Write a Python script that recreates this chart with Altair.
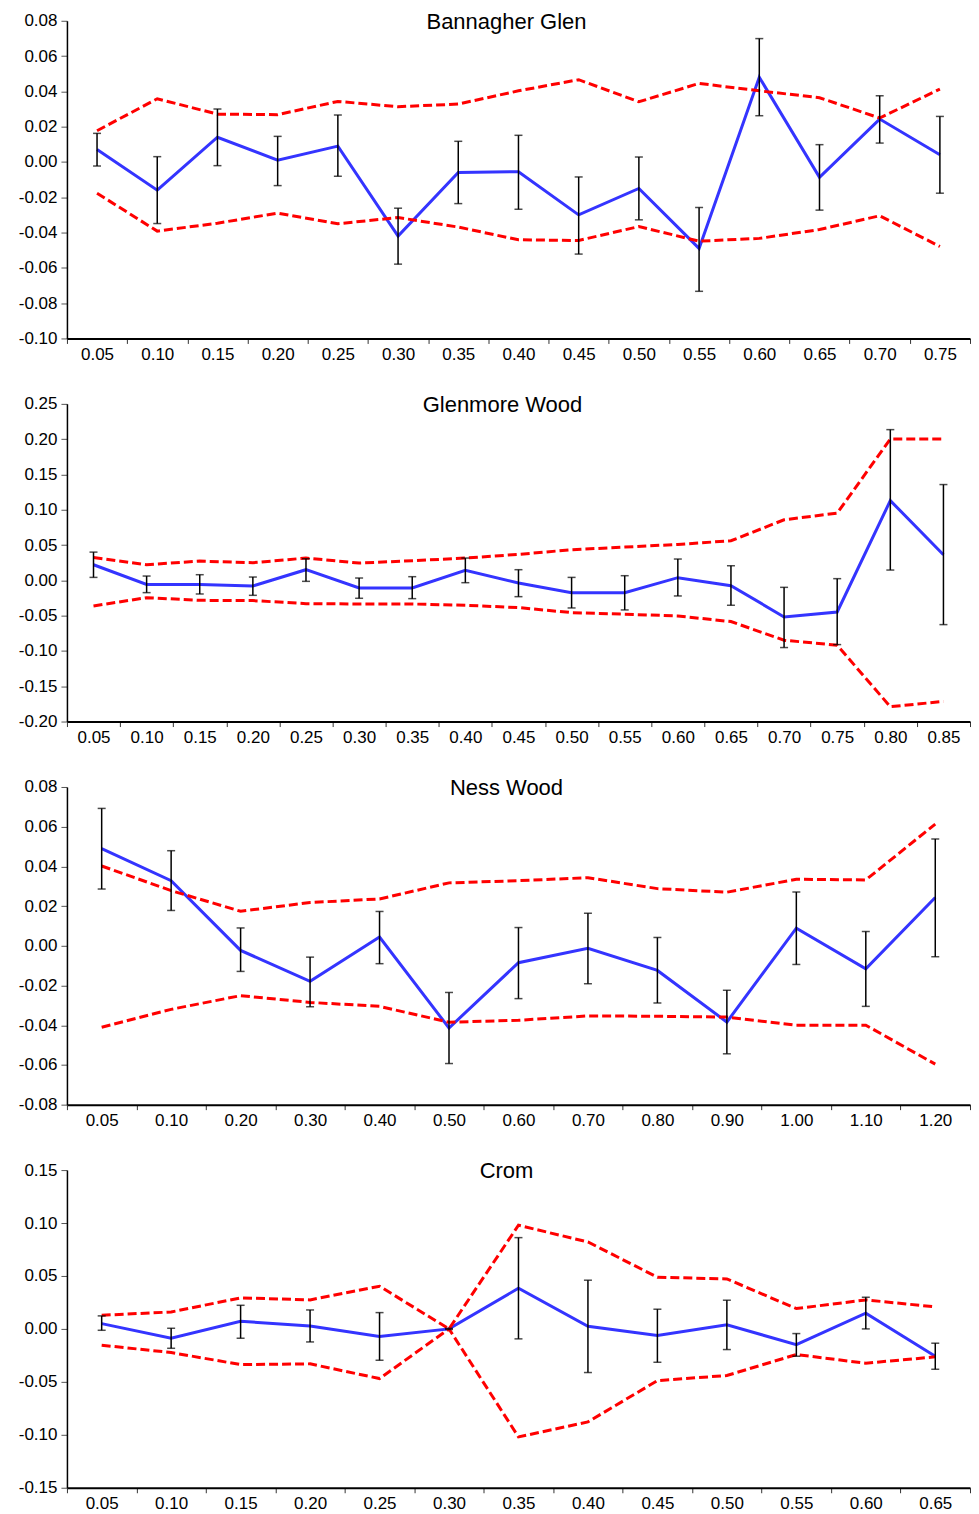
import altair as alt
import pandas as pd

FONT = "Liberation Sans"
BLUE = "#3434ff"
RED = "#ff0000"

# ---------------- Bannagher Glen ----------------
bg_x = ["0.05", "0.10", "0.15", "0.20", "0.25", "0.30", "0.35", "0.40",
        "0.45", "0.50", "0.55", "0.60", "0.65", "0.70", "0.75"]
bg_mean = [0.007, -0.016, 0.014, 0.001, 0.009, -0.042, -0.006, -0.0055,
           -0.030, -0.015, -0.049, 0.048, -0.0087, 0.0243, 0.0041]
bg_err_hi = [0.0162, 0.003, 0.030, 0.0145, 0.0266, -0.0262, 0.0117, 0.0151,
             -0.0085, 0.0028, -0.0258, 0.0699, 0.0098, 0.0375, 0.0258]
bg_err_lo = [-0.0023, -0.0349, -0.0021, -0.0134, -0.0081, -0.0579, -0.0236, -0.0268,
             -0.0522, -0.0328, -0.0733, 0.0262, -0.0273, 0.0107, -0.0177]
bg_env_hi = [0.0177, 0.0358, 0.0271, 0.0268, 0.0343, 0.0313, 0.0328, 0.0403,
             0.0466, 0.0341, 0.0445, 0.0403, 0.0364, 0.0249, 0.0413]
bg_env_lo = [-0.0177, -0.0392, -0.0347, -0.029, -0.035, -0.0315, -0.0369, -0.0441,
             -0.0445, -0.0366, -0.0449, -0.0433, -0.0383, -0.0305, -0.0479]
bg_yticks = [0.08, 0.06, 0.04, 0.02, 0.0, -0.02, -0.04, -0.06, -0.08, -0.10]

# ---------------- Glenmore Wood ----------------
gw_x = ["0.05", "0.10", "0.15", "0.20", "0.25", "0.30", "0.35", "0.40", "0.45",
        "0.50", "0.55", "0.60", "0.65", "0.70", "0.75", "0.80", "0.85"]
gw_mean = [0.0221, -0.0057, -0.0057, -0.008, 0.0151, -0.0108, -0.0108, 0.0141, -0.0038,
           -0.0174, -0.0174, 0.0038, -0.0075, -0.0518, -0.0448, 0.113, 0.0363]
gw_err_hi = [0.040, 0.0061, 0.008, 0.0047, 0.0306, 0.0033, 0.0052, 0.0316, 0.0151,
             0.0042, 0.0066, 0.0302, 0.0207, -0.0099, 0.0024, 0.2135, 0.1357]
gw_err_lo = [0.0042, -0.0174, -0.0193, -0.0212, -0.0014, -0.0254, -0.0259, -0.0033, -0.0231,
             -0.0391, -0.0419, -0.0221, -0.0353, -0.0952, -0.091, 0.0146, -0.0627]
gw_env_hi = [0.0325, 0.0221, 0.0273, 0.025, 0.0316, 0.0245, 0.0278, 0.0316, 0.0368,
             0.0434, 0.0471, 0.0509, 0.0561, 0.0858, 0.0952, 0.2003, 0.2003]
gw_env_lo = [-0.0363, -0.0245, -0.0283, -0.0287, -0.033, -0.0335, -0.0335, -0.0353, -0.0386,
             -0.0457, -0.048, -0.0504, -0.0584, -0.0848, -0.0919, -0.179, -0.1715]
gw_yticks = [0.25, 0.20, 0.15, 0.10, 0.05, 0.0, -0.05, -0.10, -0.15, -0.20]

# ---------------- Ness Wood ----------------
nw_x = ["0.05", "0.10", "0.20", "0.30", "0.40", "0.50", "0.60",
        "0.70", "0.80", "0.90", "1.00", "1.10", "1.20"]
nw_mean = [0.0489, 0.0328, -0.0023, -0.0179, 0.0044, -0.0414, -0.0085,
           -0.0013, -0.0124, -0.0384, 0.0089, -0.0116, 0.0243]
nw_err_hi = [0.0692, 0.0479, 0.009, -0.0057, 0.0173, -0.0235, 0.0092,
             0.0164, 0.0042, -0.0224, 0.0271, 0.0072, 0.0538]
nw_err_lo = [0.0286, 0.0178, -0.0129, -0.0307, -0.009, -0.0593, -0.0266,
             -0.0191, -0.0288, -0.0544, -0.0094, -0.0305, -0.0055]
nw_env_hi = [0.0402, 0.0278, 0.0174, 0.0218, 0.0236, 0.0317, 0.0328,
             0.0343, 0.0288, 0.027, 0.0335, 0.0332, 0.0613]
nw_env_lo = [-0.041, -0.032, -0.0251, -0.0285, -0.0305, -0.0385, -0.0375,
             -0.0353, -0.0355, -0.0359, -0.040, -0.040, -0.0596]
nw_yticks = [0.08, 0.06, 0.04, 0.02, 0.0, -0.02, -0.04, -0.06, -0.08]

# ---------------- Crom ----------------
cr_x = ["0.05", "0.10", "0.15", "0.20", "0.25", "0.30", "0.35",
        "0.40", "0.45", "0.50", "0.55", "0.60", "0.65"]
cr_mean = [0.005, -0.0088, 0.0072, 0.0028, -0.0072, 0.0, 0.0384,
           0.0025, -0.0063, 0.0038, -0.0148, 0.0148, -0.0258]
cr_err_hi = [0.0123, 0.0006, 0.0223, 0.0179, 0.0154, 0.0005, 0.0862,
             0.046, 0.0186, 0.0271, -0.0044, 0.0299, -0.0135]
cr_err_lo = [-0.0013, -0.0183, -0.0088, -0.0123, -0.0296, -0.0005, -0.0094,
             -0.0412, -0.0315, -0.0195, -0.0258, 0.0, -0.0381]
cr_env_hi = [0.0129, 0.016, 0.0293, 0.0274, 0.0403, 0.0, 0.0979,
             0.0821, 0.0488, 0.0472, 0.0192, 0.0274, 0.0208]
cr_env_lo = [-0.0154, -0.0223, -0.0337, -0.033, -0.0469, 0.0, -0.102,
             -0.0878, -0.0488, -0.044, -0.0242, -0.0324, -0.0264]
cr_yticks = [0.15, 0.10, 0.05, 0.0, -0.05, -0.10, -0.15]

W = 904
H = 318
LABEL_EXPR = "(datum.value < -0.00001 ? '-' : '') + format(abs(datum.value), '.2f')"


def panel(title, xs, mean, ehi, elo, uhi, ulo, yticks, title_x):
    df = pd.DataFrame({"x": xs, "mean": mean, "ehi": ehi, "elo": elo,
                       "uhi": uhi, "ulo": ulo})
    xenc = alt.X("x:O", sort=xs,
                 scale=alt.Scale(type="band", paddingInner=0, paddingOuter=0),
                 axis=alt.Axis(title=None, labelAngle=0, tickBand="extent",
                               domainColor="black", domainWidth=2,
                               tickColor="#333333", tickWidth=1, tickSize=5,
                               labelPadding=3, labelFont=FONT, labelFontSize=17,
                               labelColor="black", labelOverlap=False))
    yscale = alt.Scale(domain=[min(yticks), max(yticks)], nice=False, zero=False)
    yaxis = alt.Axis(title=None, values=yticks, tickCount=50, labelExpr=LABEL_EXPR,
                     grid=False, domainColor="black", domainWidth=1.5,
                     tickColor="#555555", tickWidth=1, tickSize=6, labelPadding=4,
                     labelFont=FONT, labelFontSize=17, labelColor="black",
                     labelOverlap=False, labelFlush=False)
    base = alt.Chart(df)
    blue = base.mark_line(color=BLUE, strokeWidth=3).encode(
        x=xenc, y=alt.Y("mean:Q", scale=yscale, axis=yaxis))
    red_hi = base.mark_line(color=RED, strokeWidth=3, strokeDash=[9, 4]).encode(
        x=xenc, y=alt.Y("uhi:Q", axis=yaxis))
    red_lo = base.mark_line(color=RED, strokeWidth=3, strokeDash=[9, 4]).encode(
        x=xenc, y=alt.Y("ulo:Q", axis=yaxis))
    rule = base.mark_rule(color="black", strokeWidth=1.5).encode(
        x=xenc, y=alt.Y("elo:Q", axis=yaxis), y2="ehi:Q")
    cap_hi = base.mark_tick(color="black", size=8, thickness=1.5,
                            orient="horizontal").encode(x=xenc, y=alt.Y("ehi:Q", axis=yaxis))
    cap_lo = base.mark_tick(color="black", size=8, thickness=1.5,
                            orient="horizontal").encode(x=xenc, y=alt.Y("elo:Q", axis=yaxis))
    ttl = alt.Chart(pd.DataFrame({"t": [title]})).mark_text(
        font=FONT, fontSize=22, baseline="middle", align="center", color="black"
    ).encode(text="t:N", x=alt.value(title_x), y=alt.value(1))
    return alt.layer(blue, red_hi, red_lo, rule, cap_hi, cap_lo, ttl).properties(
        width=W, height=H)


p1 = panel("Bannagher Glen", bg_x, bg_mean, bg_err_hi, bg_err_lo, bg_env_hi, bg_env_lo, bg_yticks, 440)
p2 = panel("Glenmore Wood", gw_x, gw_mean, gw_err_hi, gw_err_lo, gw_env_hi, gw_env_lo, gw_yticks, 436)
p3 = panel("Ness Wood", nw_x, nw_mean, nw_err_hi, nw_err_lo, nw_env_hi, nw_env_lo, nw_yticks, 440)
p4 = panel("Crom", cr_x, cr_mean, cr_err_hi, cr_err_lo, cr_env_hi, cr_env_lo, cr_yticks, 440)

chart = alt.vconcat(p1, p2, p3, p4, spacing=31.5).properties(
    padding={"left": 10, "top": 2, "right": 0, "bottom": 0}
).configure(background="white").configure_view(stroke=None)

chart.save("out.html", embed_options={"renderer": "svg", "actions": False})
